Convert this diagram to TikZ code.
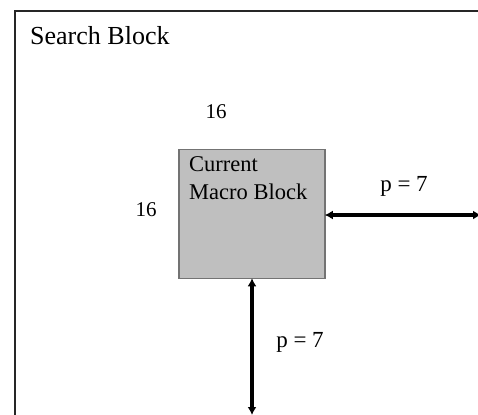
\documentclass[tikz,border=0pt]{standalone}
\usepackage{fontspec}
\setmainfont{Liberation Serif}
\usetikzlibrary{arrows.meta}
\begin{document}
\begin{tikzpicture}[x=1pt,y=-1pt,
  lbl/.style={inner sep=0pt,font=\fontsize{21}{23}\selectfont},
  dim/.style={line width=3.5pt,{Latex[length=8pt,width=9pt]}-{Latex[length=8pt,width=9pt]},shorten <=-1pt,shorten >=-1pt}]
\useasboundingbox (0,0) rectangle (478,414);
\clip (0,0) rectangle (478,414);
\draw[line width=2pt,draw=black!85] (15,11) rectangle (481,420);
\node[anchor=base west,inner sep=0pt,font=\fontsize{26}{28}\selectfont] (title) at (30,45) {Search Block};
\node[draw=black!55,line width=1.5pt,fill=black!25,minimum width=146pt,minimum height=129pt,inner sep=0pt] (mb) at (252,214) {};
\node[lbl,anchor=north west,align=left,font=\fontsize{22.5}{28}\selectfont] (mbt) at (189,156) {Current\\Macro Block};
\node[lbl] (w16) at (216,112) {16};
\node[lbl] (h16) at (146,210) {16};
\coordinate (re) at (480,215);
\coordinate (be) at (252,414);
\draw[dim] (mb.east |- re) -- (re);
\draw[dim] (mb.south -| be) -- (be);
\node[lbl,font=\fontsize{23}{25}\selectfont] (p1) at (404,186) {p = 7};
\node[lbl,font=\fontsize{23}{25}\selectfont] (p2) at (300,342) {p = 7};
\end{tikzpicture}
\end{document}
